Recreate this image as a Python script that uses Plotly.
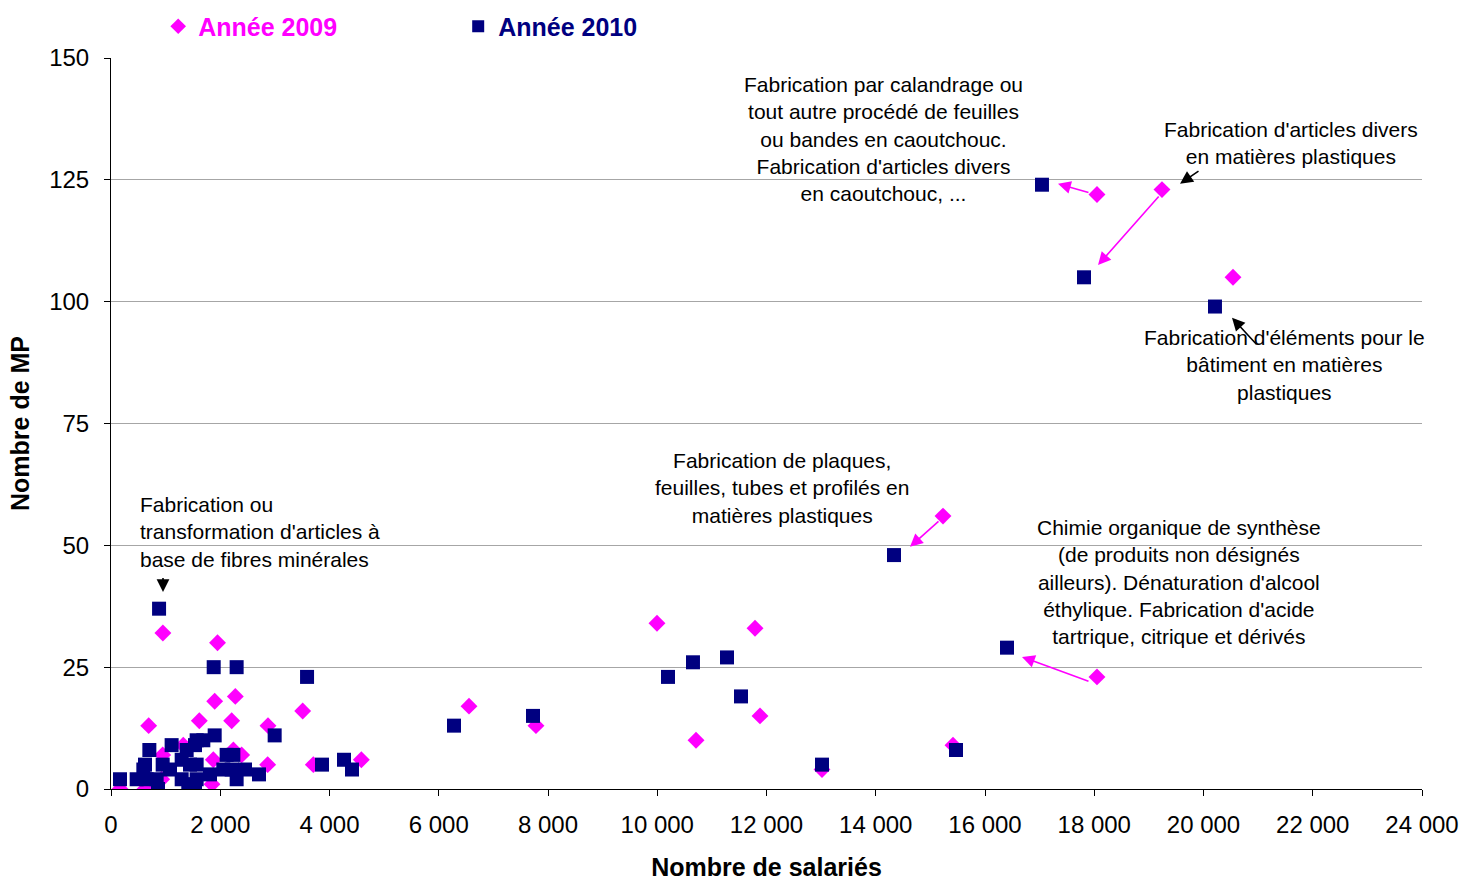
import plotly.graph_objects as go

# ---- data ----
x2009 = [165, 622, 690, 928, 946, 950, 1323, 1617, 1849, 1873,
         1898, 1950, 2209, 2240, 2276, 2392, 2868, 2874, 3509, 3704,
         4583, 6554, 7780, 9995, 10710, 11790, 11881, 13016, 15231, 15414,
         18050, 18050, 19240, 20540]
y2009 = [0, 0, 13, 2, 7, 32, 9, 14, 1, 6,
         18, 30, 14, 8, 19, 7, 5, 13, 16, 5,
         6, 17, 13, 34, 10, 33, 15, 4, 56, 9,
         122, 23, 123, 105]

x2010 = [165, 470, 592, 622, 653, 702, 836, 860, 880, 946,
         1080, 1110, 1294, 1294, 1385, 1415, 1446, 1538, 1538, 1568,
         1568, 1568, 1690, 1812, 1880, 1898, 2056, 2117, 2209, 2240,
         2300, 2300, 2453, 2709, 2996, 3589, 3863, 4265, 4412, 6279,
         7725, 10197, 10654, 11277, 11533, 13016, 14334, 15469, 16403, 17043,
         17812, 20210]
y2010 = [2, 2, 4, 5, 2, 8, 2, 0, 37, 5,
         4, 9, 2, 6, 8, 0, 5, 1, 9, 10,
         5, 2, 10, 3, 25, 11, 4, 7, 4, 7,
         25, 2, 4, 3, 11, 23, 5, 6, 4, 13,
         15, 23, 26, 27, 19, 5, 48, 8, 29, 124,
         105, 99]

xtickvals = [0, 2000, 4000, 6000, 8000, 10000, 12000, 14000, 16000, 18000, 20000, 22000, 24000]
xticktext = ["0", "2 000", "4 000", "6 000", "8 000", "10 000", "12 000", "14 000",
             "16 000", "18 000", "20 000", "22 000", "24 000"]
ytickvals = [0, 25, 50, 75, 100, 125, 150]

series_names = ["Année 2009", "Année 2010"]
series_colors = ["#FF00FF", "#000080"]

# text labels: (text, x, y, xanchor, align)
labels = [
    ("Fabrication par calandrage ou<br>tout autre procédé de feuilles<br>ou bandes en caoutchouc.<br>Fabrication d'articles divers<br>en caoutchouc, ...",
     14133, 133.3, "center", "center"),
    ("Fabrication d'articles divers<br>en matières plastiques", 21602, 132.6, "center", "center"),
    ("Fabrication d'éléments pour le<br>bâtiment en matières<br>plastiques", 21474, 87, "center", "center"),
    ("Fabrication de plaques,<br>feuilles, tubes et profilés en<br>matières plastiques", 12284, 61.8, "center", "center"),
    ("Chimie organique de synthèse<br>(de produits non désignés<br>ailleurs). Dénaturation d'alcool<br>éthylique. Fabrication d'acide<br>tartrique, citrique et dérivés",
     19551, 42.5, "center", "center"),
    ("Fabrication ou<br>transformation d'articles à<br>base de fibres minérales", 494, 52.7, "left", "left"),
]

# arrows: (head x, head y, tail x, tail y, color)
arrows = [
    (17336, 124.2, 17922, 122.3, "#FF00FF"),
    (19570, 124.2, 19936, 127.0, "black"),
    (18069, 107.5, 19204, 121.9, "#FF00FF"),
    (20522, 96.7, 20998, 90.9, "black"),
    (14627, 49.7, 15176, 55.2, "#FF00FF"),
    (16677, 27.1, 17922, 22.0, "#FF00FF"),
    (952, 40.4, 952, 43.6, "black"),
]

FONT = "Liberation Sans, Arial, sans-serif"

fig = go.Figure()
fig.add_trace(go.Scatter(
    x=x2009, y=y2009, mode="markers",
    name="<span style='color:%s'>%s</span>" % (series_colors[0], series_names[0]),
    marker=dict(symbol="diamond", size=13, color=series_colors[0], line=dict(width=0)),
))
fig.add_trace(go.Scatter(
    x=x2010, y=y2010, mode="markers",
    name="<span style='color:%s'>%s</span>" % (series_colors[1], series_names[1]),
    marker=dict(symbol="square", size=14, color=series_colors[1], line=dict(width=0)),
))

annotations = []
for text, x, y, xa, al in labels:
    annotations.append(dict(
        x=x, y=y, xref="x", yref="y", text=text, showarrow=False,
        xanchor=xa, yanchor="middle", align=al,
        font=dict(family=FONT, size=21, color="black"),
    ))
for hx, hy, tx, ty, col in arrows:
    annotations.append(dict(
        x=hx, y=hy, ax=tx, ay=ty, xref="x", yref="y", axref="x", ayref="y",
        text="", showarrow=True, arrowhead=2, arrowsize=1.6, arrowwidth=1.6,
        arrowcolor=col, standoff=0, startstandoff=0,
    ))

fig.update_layout(
    width=1463, height=881,
    margin=dict(l=111, r=41, t=58, b=92, autoexpand=False),
    plot_bgcolor="white", paper_bgcolor="white",
    font=dict(family=FONT, size=24, color="black"),
    annotations=annotations,
    showlegend=True,
    legend=dict(
        orientation="h", x=0.036, y=1.043, xanchor="left", yanchor="middle",
        entrywidth=255, entrywidthmode="pixels",
        font=dict(family=FONT, size=25, color="black", weight="bold"),
        itemsizing="constant", bgcolor="rgba(0,0,0,0)",
    ),
    xaxis=dict(
        range=[0, 24000], tickvals=xtickvals, ticktext=xticktext, automargin=False,
        showgrid=False, zeroline=False, showline=True, linecolor="black", linewidth=1,
        ticks="outside", ticklen=6, tickcolor="black", ticklabelstandoff=8,
        tickfont=dict(size=24),
        title=dict(text="<b>Nombre de salariés</b>", font=dict(size=25), standoff=28),
    ),
    yaxis=dict(
        range=[0, 150], tickvals=ytickvals, automargin=False,
        showgrid=True, gridcolor="#A6A6A6", gridwidth=1, zeroline=False,
        showline=True, linecolor="black", linewidth=1,
        ticks="outside", ticklen=6, tickcolor="black", ticklabelstandoff=10,
        tickfont=dict(size=24),
        title=dict(text="<b>Nombre de MP</b>", font=dict(size=25), standoff=12),
    ),
)

fig.write_html(
    "out.html",
    config={"displayModeBar": False},
    post_script="document.body.style.margin='0';document.body.style.overflow='hidden';",
)
